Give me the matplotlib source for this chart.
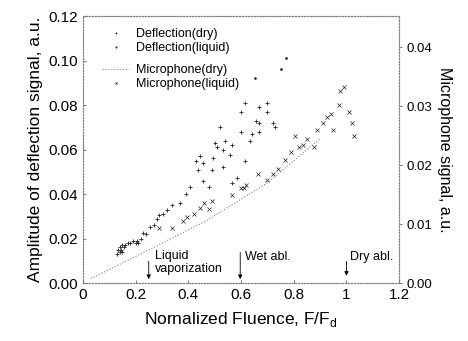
import numpy as np
import matplotlib
matplotlib.use('Agg')
import matplotlib.pyplot as plt

plt.rcParams['font.family'] = ['Liberation Sans', 'DejaVu Sans']
plt.rcParams['mathtext.fontset'] = 'custom'
plt.rcParams['mathtext.rm'] = 'Liberation Sans'

# deflection amplitude (left axis)
defl_dry_x = [0.13, 0.135, 0.14, 0.14, 0.145, 0.15, 0.15, 0.155, 0.16, 0.17, 0.18, 0.19,
              0.20, 0.205, 0.21, 0.22, 0.23, 0.24, 0.255, 0.27, 0.28, 0.29, 0.305, 0.32,
              0.34, 0.37, 0.39, 0.405, 0.43, 0.437, 0.445, 0.455, 0.456, 0.48, 0.49, 0.495,
              0.50, 0.51, 0.52, 0.53, 0.53, 0.54, 0.56, 0.565, 0.565, 0.585, 0.60, 0.60,
              0.615, 0.615, 0.635, 0.64, 0.655, 0.67, 0.67, 0.67, 0.70, 0.70, 0.72, 0.73]
defl_dry_y = [0.013, 0.015, 0.014, 0.016, 0.015, 0.014, 0.017, 0.016, 0.017, 0.018, 0.018, 0.019,
              0.018, 0.019, 0.018, 0.020, 0.0225, 0.022, 0.025, 0.026, 0.029, 0.0305, 0.031, 0.033,
              0.035, 0.036, 0.040, 0.043, 0.055, 0.051, 0.057, 0.054, 0.046, 0.043, 0.051, 0.056,
              0.063, 0.061, 0.070, 0.060, 0.052, 0.064, 0.0575, 0.062, 0.045, 0.047, 0.077, 0.068,
              0.081, 0.055, 0.064, 0.067, 0.073, 0.079, 0.072, 0.068, 0.081, 0.077, 0.072, 0.070]
defl_liq_x = [0.653, 0.75, 0.77]
defl_liq_y = [0.092, 0.096, 0.101]

# microphone signal (right axis)
mic_dry_x = [0.03, 0.2, 0.47, 0.7, 0.86, 0.9]
mic_dry_y = [0.00075, 0.0045, 0.0106, 0.0170, 0.0230, 0.0245]
mic_liq_x = [0.29, 0.34, 0.38, 0.395, 0.42, 0.445, 0.46, 0.48, 0.49, 0.565, 0.60, 0.61,
             0.62, 0.665, 0.70, 0.72, 0.74, 0.767, 0.79, 0.805, 0.82, 0.835, 0.85, 0.875,
             0.89, 0.91, 0.925, 0.94, 0.95, 0.97, 0.976, 0.99, 1.01, 1.02, 1.03]
mic_liq_y = [0.0093, 0.0094, 0.0106, 0.0112, 0.0117, 0.0128, 0.0136, 0.0125, 0.0140, 0.0149, 0.0162, 0.0162,
             0.0166, 0.0185, 0.0174, 0.0185, 0.0193, 0.0208, 0.0223, 0.0249, 0.0230, 0.0234, 0.0245, 0.0230,
             0.0260, 0.0272, 0.0281, 0.0287, 0.0260, 0.0302, 0.0325, 0.0332, 0.0291, 0.0272, 0.0249]

xticks = [0, 0.2, 0.4, 0.6, 0.8, 1.0, 1.2]
xtick_labels = ['0', '0.2', '0.4', '0.6', '0.8', '1', '1.2']
yticks = [0.00, 0.02, 0.04, 0.06, 0.08, 0.10, 0.12]
y2ticks = [0.00, 0.01, 0.02, 0.03, 0.04]

fig = plt.figure(figsize=(4.68, 3.41), dpi=100)
ax = fig.add_axes([0.177, 0.170, 0.676, 0.783])
ax2 = ax.twinx()

ax.plot(defl_dry_x, defl_dry_y, '+', color='#222222', ms=3.5, mew=0.6, label='Deflection(dry)')
ax.plot(defl_liq_x, defl_liq_y, '.', color='#222222', ms=1.8, label='Deflection(liquid)')
ax2.plot(mic_dry_x, mic_dry_y, ':', color='gray', lw=0.8, label='Microphone(dry)')
ax2.plot(mic_liq_x, mic_liq_y, 'x', color='#222222', ms=2.3, mew=0.5, label='Microphone(liquid)')

ax.set_xlim(0, 1.2)
ax.set_ylim(0, 0.12)
ax2.set_ylim(0, 0.0453)
ax.set_xticks(xticks)
ax.set_xticklabels(xtick_labels)
ax.set_yticks(yticks)
ax.set_yticklabels(['%.2f' % v for v in yticks])
ax2.set_yticks(y2ticks)
ax2.set_yticklabels(['%.2f' % v for v in y2ticks])

ax.tick_params(labelsize=11, length=2, color='gray', direction='in')
ax2.tick_params(labelsize=9.5, length=2, color='gray', direction='out')

for a in (ax, ax2):
    for s in a.spines.values():
        s.set_linestyle(':')
        s.set_color('gray')
        s.set_linewidth(0.8)

ax.set_xlabel('Nornalized Fluence, F/F$_\\mathrm{d}$', fontsize=12.5, labelpad=6)
ax.set_ylabel('Amplitude of deflection signal, a.u.', fontsize=12.5)
ax2.set_ylabel('Microphone signal, a.u.', fontsize=11.5, rotation=270, labelpad=14)

# threshold markers
ax.annotate('', xy=(0.25, 0.0005), xytext=(0.25, 0.011),
            arrowprops=dict(arrowstyle='-|>', color='black', lw=0.6, mutation_scale=6))
ax.text(0.275, 0.0035, 'Liquid\nvaporization', fontsize=9, va='bottom', linespacing=1.1)
ax.annotate('', xy=(0.597, 0.0005), xytext=(0.597, 0.015),
            arrowprops=dict(arrowstyle='-|>', color='black', lw=0.6, mutation_scale=6))
ax.text(0.615, 0.0117, 'Wet abl.', fontsize=9, va='center')
ax.annotate('', xy=(1.0, 0.002), xytext=(1.0, 0.011),
            arrowprops=dict(arrowstyle='-|>', color='black', lw=0.6, mutation_scale=6))
ax.text(1.015, 0.0117, 'Dry abl.', fontsize=9, va='center')

ax.legend(loc='upper left', bbox_to_anchor=(0.06, 0.955), frameon=False, fontsize=9,
          handlelength=2.2, handletextpad=0.5, labelspacing=0.15, borderaxespad=0, borderpad=0,
          markerscale=0.6)
ax2.legend(loc='upper left', bbox_to_anchor=(0.06, 0.82), frameon=False, fontsize=9,
           handlelength=2.2, handletextpad=0.5, labelspacing=0.15, borderaxespad=0, borderpad=0,
           markerscale=0.6)

fig.savefig('out.png', dpi=100)
